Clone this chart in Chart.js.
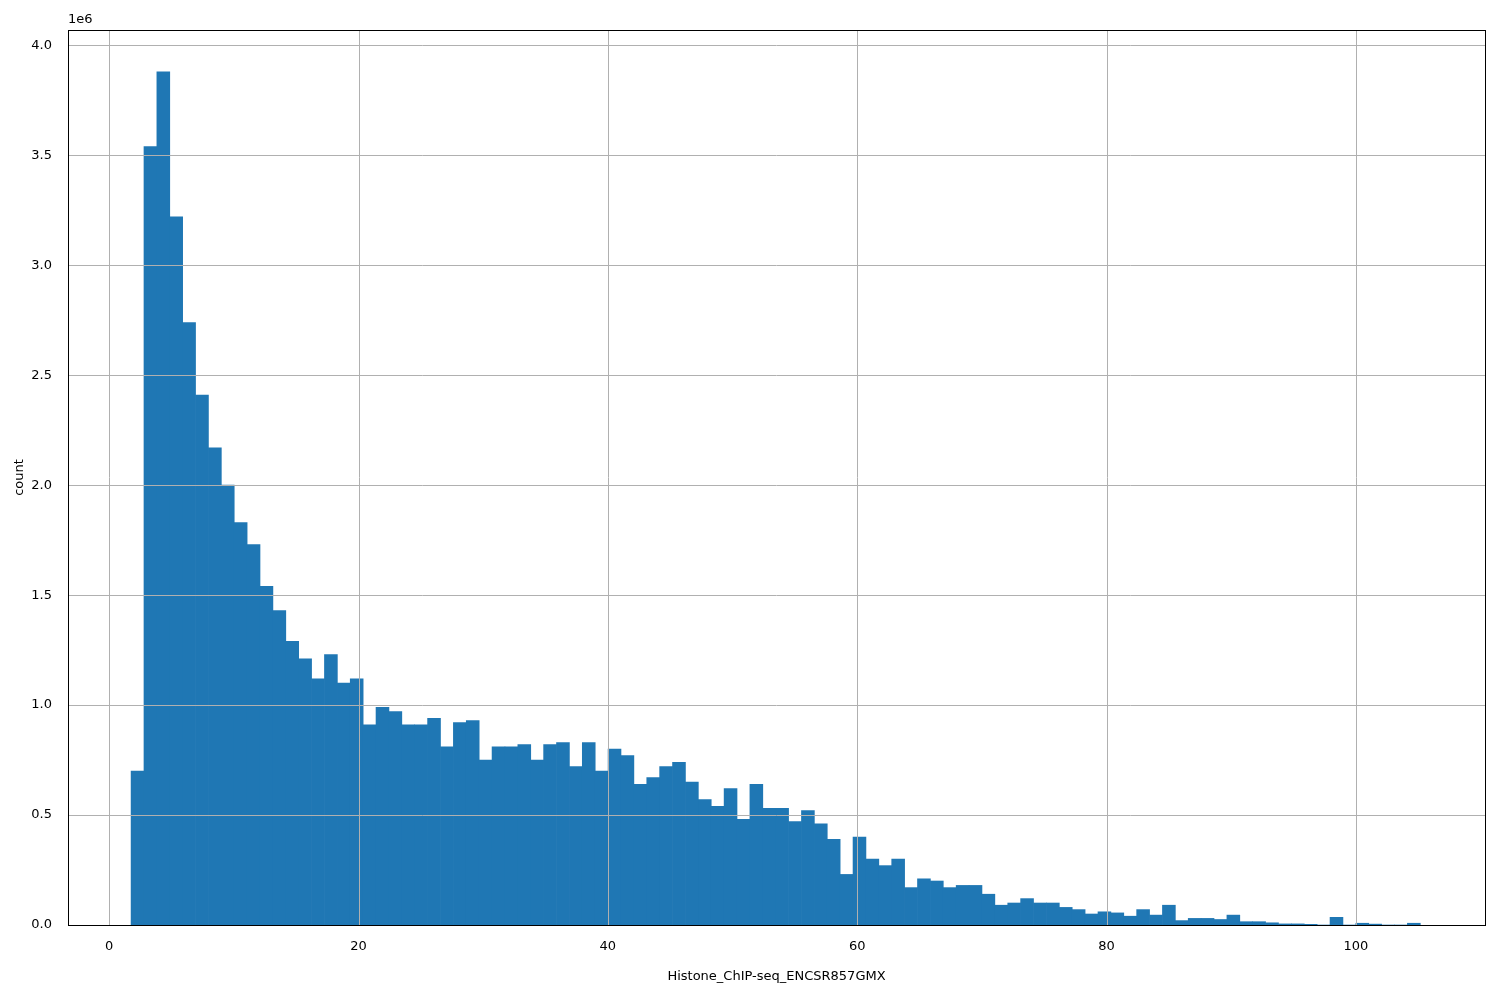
<!DOCTYPE html>
<html>
<head>
<meta charset="utf-8">
<script src="https://cdn.jsdelivr.net/npm/chart.js@4/dist/chart.umd.min.js"></script>
<style>
  body { margin: 0; background: #fff; }
  #wrap { width: 1500px; height: 1000px; }
</style>
</head>
<body>
<div id="wrap"><canvas id="c" width="1500" height="1000"></canvas></div>
<script>
// histogram: 100 bins starting at binStart, width binWidth
const binStart = 1.76;
const binWidth = 1.034;
// counts in millions
const counts = [
  0.70, 3.54, 3.88, 3.22, 2.74, 2.41, 2.17, 2.00, 1.83, 1.73,
  1.54, 1.43, 1.29, 1.21, 1.12, 1.23, 1.10, 1.12, 0.91, 0.99,
  0.97, 0.91, 0.91, 0.94, 0.81, 0.92, 0.93, 0.75, 0.81, 0.81,
  0.82, 0.75, 0.82, 0.83, 0.72, 0.83, 0.70, 0.80, 0.77, 0.64,
  0.67, 0.72, 0.74, 0.65, 0.57, 0.54, 0.62, 0.48, 0.64, 0.53,
  0.53, 0.47, 0.52, 0.46, 0.39, 0.23, 0.40, 0.30, 0.27, 0.30,
  0.17, 0.21, 0.20, 0.17, 0.18, 0.18, 0.14, 0.09, 0.10, 0.12,
  0.10, 0.10, 0.08, 0.07, 0.05, 0.06, 0.055, 0.04, 0.07, 0.045,
  0.09, 0.02, 0.03, 0.03, 0.025, 0.045, 0.015, 0.015, 0.01, 0.005,
  0.005, 0.003, 0.0, 0.035, 0.0, 0.008, 0.004, 0.0, 0.0, 0.008
];
const xTicks = [0, 20, 40, 60, 80, 100];
const xLabel = 'Histone_ChIP-seq_ENCSR857GMX';
const yLabel = 'count';

const points = counts.map((v, i) => ({ x: binStart + binWidth * (i + 0.5), y: v * 1e6 }));

// matplotlib draws the grid over the bars
const gridOnTop = {
  id: 'gridOnTop',
  afterDatasetsDraw(chart) {
    const { ctx, chartArea: a, scales: { x, y } } = chart;
    ctx.save();
    ctx.lineWidth = 1;
    xTicks.forEach(t => {
      const px = Math.round(x.getPixelForValue(t)) + 0.5;
      ctx.strokeStyle = '#b0b0b0';
      ctx.beginPath(); ctx.moveTo(px, a.top); ctx.lineTo(px, a.bottom); ctx.stroke();
    });
    y.ticks.forEach(t => {
      const py = Math.round(y.getPixelForValue(t.value)) + 0.5;
      ctx.strokeStyle = '#b0b0b0';
      ctx.beginPath(); ctx.moveTo(a.left, py); ctx.lineTo(a.right, py); ctx.stroke();
    });
    ctx.strokeStyle = '#000';
    ctx.strokeRect(a.left + 0.5, a.top + 0.5, a.right - a.left, a.bottom - a.top);
    ctx.fillStyle = '#000';
    ctx.font = '13px "DejaVu Sans"';
    ctx.textAlign = 'left';
    ctx.textBaseline = 'bottom';
    ctx.fillText('1e6', a.left, a.top - 4);
    ctx.restore();
  }
};

new Chart(document.getElementById('c'), {
  type: 'bar',
  data: {
    datasets: [{
      data: points,
      backgroundColor: '#1f77b4',
      borderWidth: 0,
      barPercentage: 1,
      categoryPercentage: 1
    }]
  },
  options: {
    responsive: false,
    animation: false,
    layout: { padding: { top: 30, right: 15, left: 8, bottom: 12 } },
    plugins: { legend: { display: false }, tooltip: { enabled: false } },
    scales: {
      x: {
        type: 'linear',
        min: -3.3,
        max: 110.35,
        offset: false,
        afterBuildTicks: s => { s.ticks = xTicks.map(v => ({ value: v })); },
        grid: { display: false },
        border: { display: false },
        ticks: { color: '#000', font: { family: 'DejaVu Sans', size: 13 }, maxRotation: 0, padding: 6 },
        title: { display: true, text: xLabel, color: '#000', font: { family: 'DejaVu Sans', size: 13 }, padding: { top: 10 } },
        afterFit: s => { s.height = 63; }
      },
      y: {
        min: 0,
        max: 4.07e6,
        afterBuildTicks: s => { s.ticks = [0, 0.5, 1, 1.5, 2, 2.5, 3, 3.5, 4].map(v => ({ value: v * 1e6 })); },
        grid: { display: false },
        border: { display: false },
        ticks: { color: '#000', font: { family: 'DejaVu Sans', size: 13 }, callback: v => (v / 1e6).toFixed(1), padding: 8 },
        title: { display: true, text: yLabel, color: '#000', font: { family: 'DejaVu Sans', size: 13 } },
        afterFit: s => { s.width = 60; }
      }
    }
  },
  plugins: [gridOnTop]
});
</script>
</body>
</html>
